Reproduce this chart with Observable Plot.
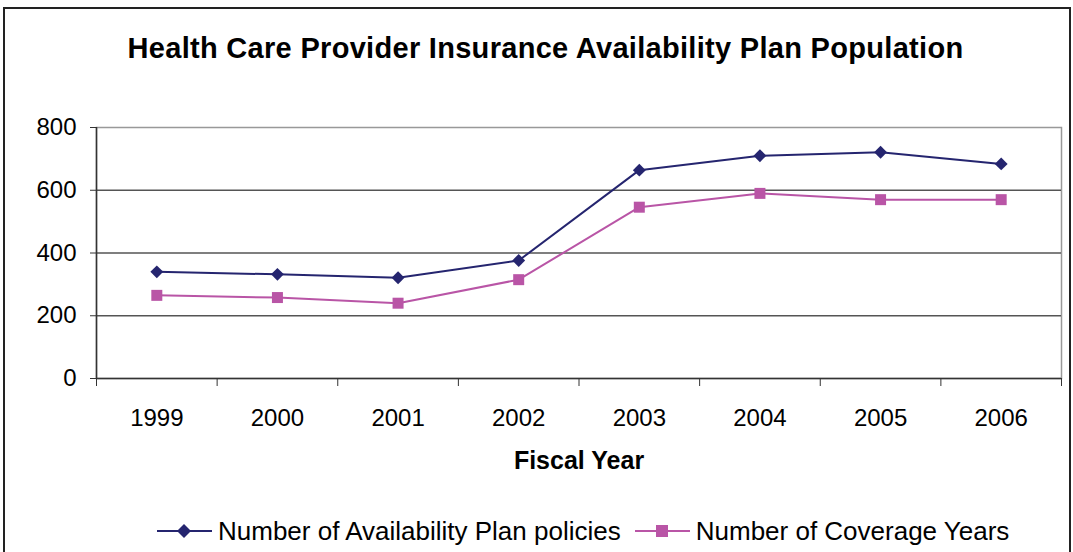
<!DOCTYPE html>
<html><head><meta charset="utf-8">
<script src="https://cdn.jsdelivr.net/npm/d3@7"></script>
<script src="https://cdn.jsdelivr.net/npm/@observablehq/plot@0.6"></script>
<style>
body{margin:0;background:#fff;font-family:"Liberation Sans",Arial,sans-serif;}
#wrap{position:relative;width:1073px;height:552px;overflow:hidden;background:#fff;}
#border{position:absolute;left:3px;top:7px;width:1064px;height:600px;border:2px solid #222;}
#title{position:absolute;left:0;width:1091px;top:34px;font-size:29px;line-height:29px;font-weight:bold;text-align:center;color:#000;letter-spacing:0.3px;}
#chart{position:absolute;left:0;top:110px;}
#legend{position:absolute;top:518px;left:157px;display:flex;align-items:center;font-size:26px;line-height:26px;color:#000;white-space:nowrap;}
.item{display:flex;align-items:center;}
.item svg{margin-right:6px;}
</style>
</head><body>
<div id="wrap">
  <div id="border"></div>
  <div id="title"></div>
  <div id="chart"></div>
  <div id="legend"></div>
</div>
<script>
const title = "Health Care Provider Insurance Availability Plan Population";
const xLabel = "Fiscal Year";
const years = [1999, 2000, 2001, 2002, 2003, 2004, 2005, 2006];
const policies = [340, 332, 321, 376, 664, 710, 721, 684];
const coverageYears = [265, 258, 240, 315, 546, 590, 570, 570];
const yTicks = [0, 200, 400, 600, 800];
const seriesNames = ["Number of Availability Plan policies", "Number of Coverage Years"];
const colors = ["#25256F", "#B955A6"];

document.getElementById("title").textContent = title;

const s1 = years.map((y, i) => ({year: y, value: policies[i]}));
const s2 = years.map((y, i) => ({year: y, value: coverageYears[i]}));
const boundaries = d3.range(years[0] - 0.5, years[years.length - 1] + 1, 1);

const chart = Plot.plot({
  width: 1073,
  height: 370,
  marginLeft: 96,
  marginRight: 12,
  marginTop: 17,
  marginBottom: 102,
  style: {fontFamily: "Liberation Sans, Arial, sans-serif", fontSize: "24px", color: "#000", background: "transparent", overflow: "visible"},
  x: {type: "linear", domain: [years[0] - 0.5, years[years.length - 1] + 0.5], axis: null},
  y: {domain: [0, 800], axis: null},
  marks: [
    Plot.frame({stroke: "#999", strokeWidth: 1.5}),
    Plot.gridY([200, 400, 600], {stroke: "#555", strokeOpacity: 1, strokeWidth: 1.3}),
    Plot.axisY(yTicks, {label: null, tickSize: 6, tickPadding: 14, fontSize: 24, stroke: "#333", tickFormat: d => String(d)}),
    Plot.axisX(boundaries, {label: null, tickSize: 8, stroke: "#333", tickFormat: () => ""}),
    Plot.axisX(years, {label: null, tickSize: 0, tickPadding: 30, fontSize: 24, tickFormat: d => String(d)}),
    Plot.ruleX([years[0] - 0.5], {stroke: "#333", strokeWidth: 1.5}),
    Plot.ruleY([0], {stroke: "#333", strokeWidth: 1.5}),
    Plot.line(s2, {x: "year", y: "value", stroke: colors[1], strokeWidth: 2}),
    Plot.dot(s2, {x: "year", y: "value", symbol: "square2", fill: colors[1], r: 7}),
    Plot.line(s1, {x: "year", y: "value", stroke: colors[0], strokeWidth: 2}),
    Plot.dot(s1, {x: "year", y: "value", symbol: "diamond2", fill: colors[0], r: 5.8}),
    Plot.text([xLabel], {text: d => d, frameAnchor: "bottom", dy: 90, fontSize: 25, fontWeight: "bold", style: "letter-spacing:0.7px"})
  ]
});
document.getElementById("chart").appendChild(chart);

const legend = document.getElementById("legend");
seriesNames.forEach((name, i) => {
  const item = document.createElement("div");
  item.className = "item";
  if (i > 0) item.style.marginLeft = "14px";
  const marker = i === 0
    ? `<polygon points="27,5 34,12 27,19 20,12" fill="${colors[0]}"/>`
    : `<rect x="21" y="6" width="12" height="12" fill="${colors[1]}"/>`;
  item.innerHTML = `<svg width="55" height="24"><line x1="0" x2="55" y1="12" y2="12" stroke="${colors[i]}" stroke-width="2"/>${marker}</svg><span>${name}</span>`;
  legend.appendChild(item);
});
</script>
</body></html>
